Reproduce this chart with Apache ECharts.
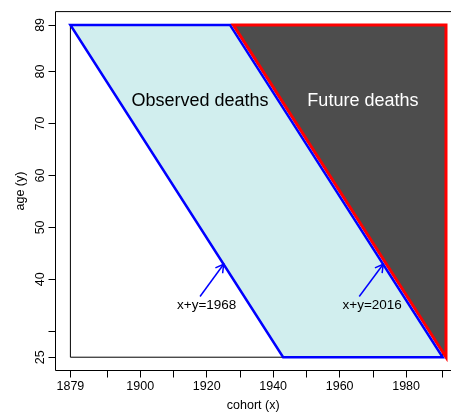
<!DOCTYPE html>
<html><head><meta charset="utf-8">
<script src="https://cdn.jsdelivr.net/npm/echarts@6/dist/echarts.min.js"></script>
<style>html,body{margin:0;padding:0;background:#fff}#c{width:451px;height:417px}</style>
</head><body><div id="c"></div>
<script>
// ---- data ----
const xRange = [1879, 1991];
const yRange = [25, 89];
const xTicks = [1879,1890,1900,1910,1920,1930,1940,1950,1960,1970,1980,1991];
const xTickLabels = [1879,1900,1920,1940,1960,1980];
const yTicks = [25,30,40,50,60,70,80,89];
const yTickLabels = [25,40,50,60,70,80,89];
const lexisFrame = [[1879,25],[1879,89],[1991,89],[1991,25]];
const observedDeaths = [[1879,89],[1927,89],[1991,25],[1943,25]];
const futureDeaths = [[1928,89],[1992,89],[1992,25]];
const arrowStarts = [[1918,36.7],[1965.9,36.7]];
const arrowTips = [[1925.1,42.9],[1973.1,42.9]];
const lineLabels = ['x+y=1968','x+y=2016'];
const lineLabelPos = [[1920,35],[1969.8,35]];
const regionLabels = ['Observed deaths','Future deaths'];
const regionLabelPos = [[1918,74.3],[1967,74.3]];

const FONT = 'Liberation Sans, Arial, Helvetica, sans-serif';
const padX = 0.04*(xRange[1]-xRange[0]);
const padY = 0.04*(yRange[1]-yRange[0]);
// the original plot box runs past the right edge of the picture
const GRID_LEFT = 55.5, GRID_W = 451 - 55.5, PX_PER_YEAR = 3.324;
const xAxisMin = xRange[0]-padX;
const xAxisMax = xAxisMin + GRID_W/PX_PER_YEAR;
const yAxisMin = yRange[0]-padY, yAxisMax = yRange[1]+padY;

function polySeries(pts, fill, stroke, lw, z){
  return {
    type:'custom', z:z, silent:true, data:[0], clip:false,
    renderItem:(params, api)=>({
      type:'polygon',
      shape:{points: pts.map(p=>api.coord(p))},
      style:{fill:fill, stroke:stroke, lineWidth:lw, lineJoin:'miter'}
    })
  };
}

const chart = echarts.init(document.getElementById('c'), null, {renderer:'canvas'});
chart.setOption({
  animation:false,
  backgroundColor:'#fff',
  grid:{left:GRID_LEFT, top:11.6, width:GRID_W, height:361.8, show:false},
  xAxis:{
    type:'value', min:xAxisMin, max:xAxisMax,
    axisLine:{show:false}, splitLine:{show:false},
    axisTick:{show:true, customValues:xTicks, length:7, lineStyle:{color:'#000', width:1}},
    axisLabel:{customValues:xTickLabels, margin:10, fontSize:12.5, color:'#000', fontFamily:FONT, formatter:v=>String(v)},
    name:'cohort (x)', nameLocation:'middle', nameGap:28.5,
    nameTextStyle:{fontSize:12.5, color:'#000', fontFamily:FONT}
  },
  yAxis:{
    type:'value', min:yAxisMin, max:yAxisMax,
    axisLine:{show:false}, splitLine:{show:false},
    axisTick:{show:true, customValues:yTicks, length:7, lineStyle:{color:'#000', width:1}},
    axisLabel:{customValues:yTickLabels, margin:8, rotate:90, fontSize:12.5, color:'#000', fontFamily:FONT, formatter:v=>String(v)},
    name:'age (y)', nameLocation:'middle', nameGap:28,
    nameTextStyle:{fontSize:12.5, color:'#000', fontFamily:FONT}
  },
  series:[
    {
      type:'custom', z:0, silent:true, data:[0], clip:false,
      renderItem:(params, api)=>({
        type:'polyline',
        shape:{points:[[xAxisMax+5,yAxisMax],[xAxisMin,yAxisMax],[xAxisMin,yAxisMin],[xAxisMax+5,yAxisMin]].map(p=>api.coord(p))},
        style:{stroke:'#000', lineWidth:1, fill:null}
      })
    },
    polySeries(lexisFrame, 'transparent', '#000', 1, 1),
    polySeries(futureDeaths, '#4D4D4D', '#FF0000', 3, 2),
    polySeries(observedDeaths, '#D1EEEE', '#0000FF', 2.5, 3),
    {
      type:'custom', z:4, silent:true,
      data: arrowStarts.map((s,i)=>[s[0], s[1], arrowTips[i][0], arrowTips[i][1]]),
      renderItem:(params, api)=>{
        const a = api.coord([api.value(0), api.value(1)]);
        const b = api.coord([api.value(2), api.value(3)]);
        const ang = Math.atan2(b[1]-a[1], b[0]-a[0]);
        const L = 9, da = Math.PI/6;
        const h1 = [b[0]-L*Math.cos(ang-da), b[1]-L*Math.sin(ang-da)];
        const h2 = [b[0]-L*Math.cos(ang+da), b[1]-L*Math.sin(ang+da)];
        const st = {stroke:'#0000FF', lineWidth:1.5, fill:null};
        return {type:'group', children:[
          {type:'line', shape:{x1:a[0],y1:a[1],x2:b[0],y2:b[1]}, style:st},
          {type:'polyline', shape:{points:[h1,b,h2]}, style:st}
        ]};
      }
    },
    {
      type:'custom', z:5, silent:true,
      data: lineLabelPos.map((p,i)=>[p[0], p[1], i]),
      renderItem:(params, api)=>{
        const p = api.coord([api.value(0), api.value(1)]);
        return {type:'text', x:p[0], y:p[1], style:{text:lineLabels[api.value(2)], fill:'#000', fontSize:13.5, fontFamily:FONT, align:'center', verticalAlign:'middle'}};
      }
    },
    {
      type:'custom', z:5, silent:true,
      data: regionLabelPos.map((p,i)=>[p[0], p[1], i]),
      renderItem:(params, api)=>{
        const p = api.coord([api.value(0), api.value(1)]);
        const i = api.value(2);
        return {type:'text', x:p[0], y:p[1], style:{text:regionLabels[i], fill: i===0 ? '#000' : '#fff', fontSize:18, fontFamily:FONT, align:'center', verticalAlign:'middle'}};
      }
    }
  ]
});
</script></body></html>
